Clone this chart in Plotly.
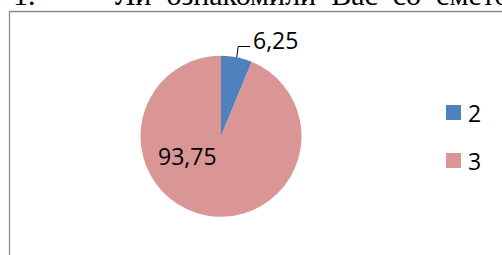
import math
import plotly.graph_objects as go

# ---- data ----
categories = ["2", "3"]
values = [6.25, 93.75]
colors = ["#4F81BD", "#D99694"]
header_num = "1."
header_text = "Ли  ознакомили  Вас  со  сметой"

W, H = 502, 255


def px(x):
    return x / W


def py(y):
    return 1 - y / H


# pie geometry (pixels)
cx, cy, r = 221.0, 136.2, 80.5

fig = go.Figure()
fig.add_trace(go.Pie(
    labels=categories,
    values=values,
    sort=False,
    direction="clockwise",
    rotation=0,
    marker=dict(colors=colors, line=dict(width=0)),
    textinfo="none",
    hoverinfo="label+value",
    showlegend=False,
    domain=dict(x=[px(cx - r), px(cx + r)], y=[py(cy + r), py(cy - r)]),
))

total = sum(values)
fmt = [f"{v:.2f}".replace(".", ",") for v in values]

shapes = []
annotations = []

# chart area border (extends beyond the visible page)
shapes.append(dict(type="rect", xref="paper", yref="paper",
                   x0=px(9.5), x1=px(520), y0=py(280), y1=py(11.5),
                   line=dict(color="#8A8A8A", width=1.3), fillcolor="rgba(0,0,0,0)"))

# leader line for the small slice, from the middle of its arc
mid_frac = (values[0] / 2) / total
ang = 2 * math.pi * mid_frac
sx = cx + r * math.sin(ang)
sy = cy - r * math.cos(ang)
shapes.append(dict(type="path", xref="paper", yref="paper",
                   path=f"M {px(sx)},{py(sy)} L {px(sx + 1.5)},{py(46.5)} L {px(250)},{py(46.5)}",
                   line=dict(color="black", width=1)))

label_font = dict(family="Open Sans, Liberation Sans, sans-serif", size=23, color="black")
annotations.append(dict(text=fmt[0], x=px(251), y=py(39.5), xref="paper", yref="paper",
                        xanchor="left", yanchor="middle", showarrow=False, font=label_font))
annotations.append(dict(text=fmt[1], x=px(156), y=py(155.5), xref="paper", yref="paper",
                        xanchor="left", yanchor="middle", showarrow=False, font=label_font))

# legend (manual)
for i, (cat, col) in enumerate(zip(categories, colors)):
    yc = 112.5 + i * 48
    shapes.append(dict(type="rect", xref="paper", yref="paper",
                       x0=px(446), x1=px(461), y0=py(yc + 7.5), y1=py(yc - 7.5),
                       fillcolor=col, line=dict(width=0)))
    annotations.append(dict(text=cat, x=px(466), y=py(yc), xref="paper", yref="paper",
                            xanchor="left", yanchor="middle", showarrow=False, font=label_font))

# cut-off header text above the chart
head_font = dict(family="Liberation Serif, serif", size=30, color="black")
annotations.append(dict(text=header_num, x=px(11), y=py(13), xref="paper", yref="paper",
                        xanchor="left", yanchor="bottom", showarrow=False, font=head_font))
annotations.append(dict(text=header_text, x=px(113), y=py(13), xref="paper", yref="paper",
                        xanchor="left", yanchor="bottom", showarrow=False, font=head_font))

fig.update_layout(
    width=W, height=H,
    margin=dict(l=0, r=0, t=0, b=0),
    paper_bgcolor="white", plot_bgcolor="white",
    shapes=shapes, annotations=annotations,
)

fig.write_html("out.html",
               config={"displayModeBar": False},
               post_script="document.body.style.margin='0';document.body.style.overflow='hidden';")
